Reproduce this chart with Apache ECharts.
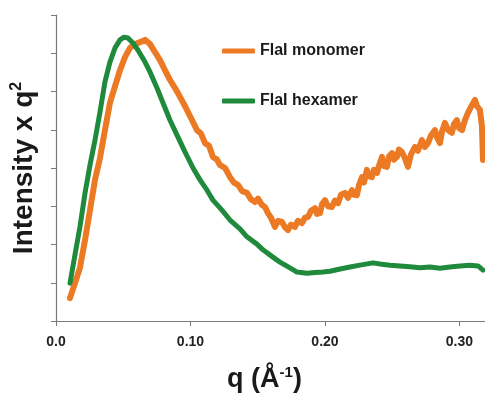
<!DOCTYPE html>
<html>
<head>
<meta charset="utf-8">
<script src="https://cdn.jsdelivr.net/npm/echarts@6/dist/echarts.min.js"></script>
<style>
html,body{margin:0;padding:0;background:#fff;}
#chart{width:485px;height:395px;}
</style>
</head>
<body>
<div id="chart"></div>
<script>
// Series names
const seriesNames = ['FlaI monomer', 'FlaI hexamer'];

// x tick values (q, Å^-1)
const xTicks = [0.0, 0.10, 0.20, 0.30];

// FlaI monomer (orange): q and Intensity x q^2 (arbitrary units)
const monomerQ = [0.0104,0.0141,0.0178,0.0216,0.0253,0.0290,0.0327,0.0364,0.0401,0.0439,0.0476,0.0513,0.0550,0.0587,0.0625,0.0662,
  0.0699,0.0736,0.0773,0.0810,0.0848,0.0885,0.0922,0.0959,0.0996,0.1019,0.1048,0.1078,0.1108,0.1138,0.1167,0.1197,0.1219,0.1257,0.1294,0.1323,0.1353,0.1383,0.1420,0.1450,
  0.1480,0.1502,0.1532,0.1554,0.1576,0.1599,0.1628,0.1651,0.1680,0.1703,0.1725,0.1747,0.1777,0.1799,0.1829,0.1851,0.1874,0.1896,0.1926,0.1941,
  0.1963,0.1978,0.2000,0.2022,0.2052,0.2074,0.2097,0.2119,0.2149,0.2171,0.2201,0.2216,0.2238,0.2253,0.2275,0.2290,0.2312,0.2327,0.2349,0.2364,
  0.2387,0.2401,0.2424,0.2439,0.2461,0.2476,0.2498,0.2513,0.2535,0.2550,0.2572,0.2595,0.2617,0.2639,0.2669,0.2691,0.2721,0.2743,0.2766,0.2788,
  0.2818,0.2833,0.2855,0.2870,0.2892,0.2914,0.2944,0.2959,0.2981,0.2996,0.3019,0.3041,0.3063,0.3086,0.3115,0.3130,0.3152,0.3167,0.3175,0.3190];
const monomerI = [0.60,0.99,1.39,2.12,2.90,3.69,4.26,4.99,5.70,6.14,6.56,6.90,7.14,7.24,7.29,7.35,
  7.24,7.03,6.82,6.56,6.30,6.09,5.86,5.62,5.36,5.20,4.99,4.90,4.65,4.58,4.29,4.22,4.08,4.00,3.76,3.62,3.56,3.40,3.35,3.18,
  3.11,3.20,3.03,2.98,2.82,2.70,2.46,2.62,2.59,2.45,2.38,2.52,2.46,2.62,2.56,2.70,2.72,2.88,2.95,2.80,
  2.82,3.05,3.16,3.00,2.98,3.15,3.08,3.30,3.35,3.22,3.42,3.30,3.29,3.55,3.76,3.62,3.95,3.78,3.76,3.95,
  3.87,4.05,4.29,4.05,4.03,4.30,4.39,4.22,4.29,4.48,4.42,4.25,4.03,4.35,4.55,4.45,4.73,4.55,4.65,4.85,
  4.99,4.80,4.65,4.95,5.18,5.00,4.92,5.15,5.25,5.05,4.99,5.25,5.44,5.60,5.78,5.62,5.52,5.10,4.21,4.55];

// FlaI hexamer (green)
const hexamerQ = [0.0104,0.0141,0.0178,0.0216,0.0253,0.0290,0.0327,0.0364,0.0401,0.0439,0.0476,0.0506,0.0535,0.0572,0.0610,0.0662,0.0699,0.0751,0.0796,0.0848,0.0900,0.0959,0.1019,0.1071,0.1123,0.1167,0.1234,0.1294,0.1368,0.1420,0.1494,0.1539,0.1613,0.1665,0.1740,0.1792,0.1866,0.1926,0.1985,0.2037,0.2112,0.2186,0.2260,0.2357,0.2409,0.2483,0.2558,0.2632,0.2706,0.2781,0.2855,0.2929,0.3004,0.3078,0.3138,0.3175];
const hexamerI = [0.99,1.73,2.46,3.35,4.08,4.73,5.46,6.25,6.77,7.14,7.35,7.42,7.40,7.27,7.08,6.77,6.51,6.09,5.70,5.25,4.86,4.42,4.00,3.69,3.42,3.16,2.90,2.64,2.41,2.20,2.01,1.86,1.67,1.54,1.39,1.28,1.25,1.27,1.28,1.30,1.36,1.41,1.46,1.52,1.49,1.46,1.44,1.42,1.39,1.41,1.38,1.41,1.44,1.46,1.44,1.33];

const zip = (a, b) => a.map((v, i) => [v, b[i]]);

const FONT = 'Liberation Sans, Arial, sans-serif';
const chart = echarts.init(document.getElementById('chart'), null, {renderer: 'canvas'});
chart.setOption({
  animation: false,
  backgroundColor: '#ffffff',
  textStyle: {fontFamily: FONT},
  grid: {left: 56, right: 0, top: 15, bottom: 74, outerBoundsMode: 'none'},
  legend: {
    orient: 'vertical',
    left: 217,
    top: 36,
    itemWidth: 33,
    itemHeight: 5,
    itemGap: 30,
    icon: 'roundRect',
    data: seriesNames,
    textStyle: {fontSize: 16, fontWeight: 'bold', color: '#1a1a1a', lineHeight: 20, fontFamily: FONT},
    selectedMode: false
  },
  xAxis: {
    type: 'value',
    min: 0,
    max: 0.319,
    interval: 0.1,
    splitLine: {show: false},
    axisLine: {lineStyle: {color: '#7a7a7a', width: 1.2}},
    axisTick: {show: true, length: 5, lineStyle: {color: '#7a7a7a'},
      customValues: xTicks},
    axisLabel: {
      margin: 14,
      fontSize: 14,
      color: '#222',
      fontWeight: 'bold',
      customValues: xTicks,
      formatter: v => (Math.abs(v) < 1e-9 ? '0.0' : v.toFixed(2))
    },
    name: '{b|q (Å}{s|-1}{b|)}',
    nameLocation: 'middle',
    nameGap: 44,
    nameTextStyle: {
      padding: [0, 12, 0, 0],
      rich: {
        b: {fontSize: 27, fontWeight: 'bold', color: '#1a1a1a', fontFamily: FONT, lineHeight: 30},
        s: {fontSize: 15, fontWeight: 'bold', color: '#1a1a1a', fontFamily: FONT, verticalAlign: 'top', lineHeight: 16}
      }
    }
  },
  yAxis: {
    type: 'value',
    min: 0,
    max: 8,
    interval: 1,
    splitLine: {show: false},
    axisLine: {show: true, lineStyle: {color: '#7a7a7a', width: 1.2}},
    axisTick: {show: true, length: 5, lineStyle: {color: '#7a7a7a'}},
    axisLabel: {show: false},
    name: '{b|Intensity x q}{s|2}',
    nameLocation: 'middle',
    nameRotate: 90,
    nameGap: 17,
    nameTextStyle: {
      rich: {
        b: {fontSize: 28, fontWeight: 'bold', color: '#1a1a1a', fontFamily: FONT, lineHeight: 30},
        s: {fontSize: 16, fontWeight: 'bold', color: '#1a1a1a', fontFamily: FONT, verticalAlign: 'top', lineHeight: 16}
      }
    }
  },
  series: [
    {
      name: seriesNames[0],
      type: 'line',
      data: zip(monomerQ, monomerI),
      showSymbol: false,
      symbol: 'none',
      lineStyle: {color: '#EC7A24', width: 6, cap: 'round', join: 'round'},
      itemStyle: {color: '#EC7A24'},
      z: 2
    },
    {
      name: seriesNames[1],
      type: 'line',
      data: zip(hexamerQ, hexamerI),
      showSymbol: false,
      symbol: 'none',
      lineStyle: {color: '#1F8A3C', width: 5, cap: 'round', join: 'round'},
      itemStyle: {color: '#1F8A3C'},
      z: 3
    }
  ]
});
</script>
</body>
</html>
